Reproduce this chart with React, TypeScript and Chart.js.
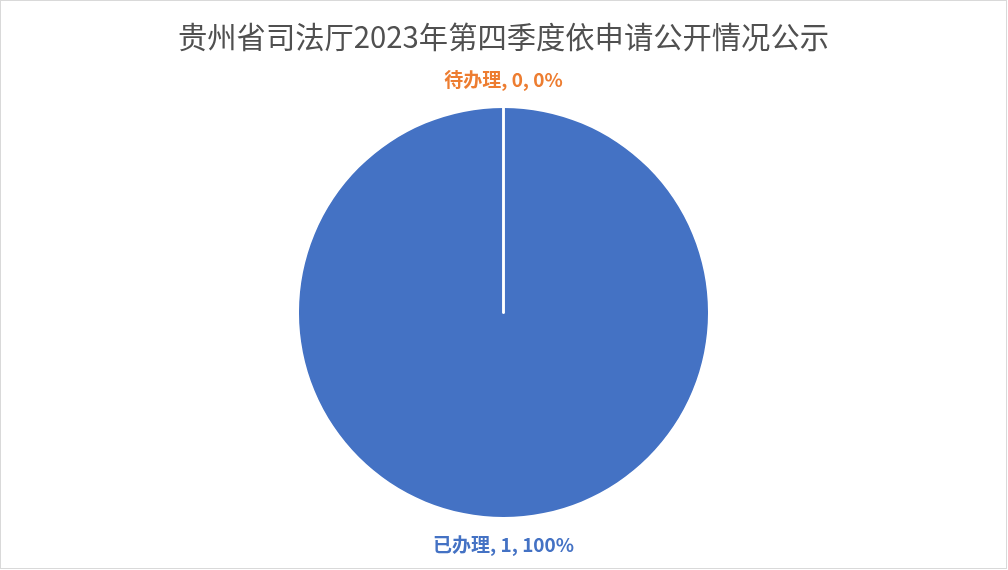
import React, { useEffect, useRef } from "react";
import { Chart, registerables } from "chart.js";

Chart.register(...registerables);

const TITLE = "贵州省司法厅2023年第四季度依申请公开情况公示";
const categories = ["待办理", "已办理"];
const values = [0, 1];
const colors = ["#ED7D31", "#4472C4"];

const FONT = "'Noto Sans CJK SC', 'Noto Sans', sans-serif";

const pieDecor = {
  id: "pieDecor",
  afterDatasetsDraw(chart: any) {
    const ctx = chart.ctx;
    const meta = chart.getDatasetMeta(0);
    const data = chart.data.datasets[0].data as number[];
    const total = data.reduce((a, b) => a + b, 0);
    ctx.save();
    // slice separators
    meta.data.forEach((arc: any) => {
      const p = arc.getProps(["x", "y", "startAngle", "outerRadius"], true);
      ctx.beginPath();
      ctx.moveTo(p.x, p.y);
      ctx.lineTo(
        p.x + Math.cos(p.startAngle) * (p.outerRadius + 1),
        p.y + Math.sin(p.startAngle) * (p.outerRadius + 1)
      );
      ctx.strokeStyle = "#ffffff";
      ctx.lineWidth = 2.5;
      ctx.lineCap = "round";
      ctx.stroke();
    });
    // data labels
    meta.data.forEach((arc: any, i: number) => {
      const p = arc.getProps(["x", "y", "startAngle", "endAngle", "outerRadius"], true);
      const mid = (p.startAngle + p.endAngle) / 2;
      const r = p.outerRadius + 28;
      const lx = p.x + Math.cos(mid) * r;
      const ly = p.y + Math.sin(mid) * r;
      const pct = total ? Math.round((data[i] / total) * 100) : 0;
      ctx.font = `bold 19px ${FONT}`;
      ctx.fillStyle = colors[i];
      ctx.textAlign = "center";
      ctx.textBaseline = "middle";
      ctx.fillText(`${chart.data.labels[i]}, ${data[i]}, ${pct}%`, lx, ly);
    });
    ctx.restore();
  },
};

export default function App() {
  const ref = useRef<HTMLCanvasElement | null>(null);

  useEffect(() => {
    document.body.style.margin = "0";
    const chart = new Chart(ref.current as HTMLCanvasElement, {
      type: "pie",
      data: {
        labels: categories,
        datasets: [
          {
            data: values,
            backgroundColor: colors,
            borderWidth: 0,
          },
        ],
      },
      options: {
        responsive: false,
        animation: false,
        layout: { padding: { top: 0, bottom: 53, left: 0, right: 1 } },
        plugins: {
          legend: { display: false },
          tooltip: { enabled: false },
          title: {
            display: true,
            text: TITLE,
            color: "#505050",
            font: { size: 29.3, family: FONT, weight: "normal", lineHeight: 1.2 },
            padding: { top: 19, bottom: 53.8 },
          },
        },
      },
      plugins: [pieDecor],
    });
    return () => chart.destroy();
  }, []);

  return (
    <div style={{ position: "relative", width: 1008, height: 570, background: "#fff" }}>
      <canvas ref={ref} width={1008} height={570} style={{ display: "block" }} />
      <div
        style={{
          position: "absolute",
          left: 0,
          top: 0,
          width: 1007,
          height: 569,
          boxSizing: "border-box",
          border: "1px solid #d9d9d9",
          pointerEvents: "none",
        }}
      />
    </div>
  );
}
